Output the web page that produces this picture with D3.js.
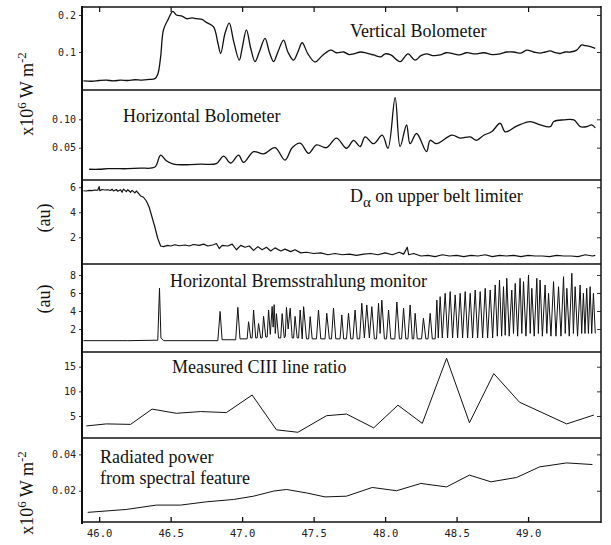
<!DOCTYPE html>
<html><head><meta charset="utf-8">
<script src="https://cdn.jsdelivr.net/npm/d3@7/dist/d3.min.js"></script>
<style>
body{margin:0;background:#fff;}
svg{display:block;}
.ttl{font-family:"Liberation Serif","Times New Roman",serif;fill:#111;}
.tick{font-family:"DejaVu Sans Mono",monospace;fill:#222;}
</style></head>
<body><svg id="c" width="611" height="545"></svg>
<script>
// ---------- data ----------
const xTicks = [46.0, 46.5, 47.0, 47.5, 48.0, 48.5, 49.0];
const xTickLabels = ["46.0","46.5","47.0","47.5","48.0","48.5","49.0"];

const panelTitles = ["Vertical Bolometer","Horizontal Bolometer","D\u03b1 on upper belt limiter","Horizontal Bremsstrahlung monitor","Measured CIII line ratio","Radiated power|from spectral feature"];

const vbTicks = [0.1, 0.2], vbTickLabels = ["0.1","0.2"];
const vertBolo = [[45.89,0.022],[45.95,0.021],[46.0,0.023],[46.05,0.024],[46.1,0.022],[46.15,0.024],[46.2,0.023],[46.25,0.025],[46.3,0.024],[46.35,0.026],[46.39,0.028],[46.41,0.04],[46.43,0.087],[46.45,0.16],[46.485,0.19],[46.515,0.21],[46.54,0.2],[46.58,0.197],[46.61,0.19],[46.65,0.192],[46.68,0.19],[46.72,0.188],[46.75,0.18],[46.8,0.168],[46.83,0.125],[46.85,0.096],[46.88,0.15],[46.91,0.178],[46.94,0.13],[46.98,0.078],[47.0,0.11],[47.03,0.16],[47.06,0.11],[47.09,0.074],[47.12,0.1],[47.16,0.137],[47.19,0.1],[47.22,0.074],[47.25,0.1],[47.29,0.132],[47.32,0.1],[47.36,0.078],[47.39,0.1],[47.42,0.125],[47.46,0.095],[47.51,0.073],[47.56,0.09],[47.62,0.105],[47.66,0.098],[47.71,0.1],[47.75,0.093],[47.78,0.095],[47.83,0.1],[47.87,0.097],[47.92,0.092],[47.97,0.087],[48.0,0.095],[48.04,0.092],[48.105,0.074],[48.16,0.095],[48.21,0.078],[48.25,0.09],[48.29,0.095],[48.34,0.09],[48.385,0.092],[48.43,0.098],[48.48,0.095],[48.52,0.092],[48.57,0.098],[48.63,0.095],[48.69,0.098],[48.75,0.093],[48.805,0.095],[48.85,0.1],[48.9,0.1],[48.95,0.097],[48.99,0.105],[49.04,0.1],[49.085,0.097],[49.12,0.1],[49.155,0.103],[49.19,0.098],[49.225,0.096],[49.26,0.1],[49.295,0.1],[49.34,0.105],[49.375,0.119],[49.4,0.117],[49.43,0.115],[49.47,0.11]];

const hbTicks = [0.05, 0.10], hbTickLabels = ["0.05","0.10"];
const horizBolo = [[45.93,0.012],[46.0,0.012],[46.06,0.013],[46.12,0.013],[46.2,0.013],[46.29,0.014],[46.39,0.016],[46.43,0.037],[46.47,0.027],[46.52,0.021],[46.61,0.02],[46.71,0.021],[46.82,0.022],[46.87,0.035],[46.92,0.023],[46.975,0.037],[47.01,0.024],[47.08,0.043],[47.15,0.039],[47.23,0.05],[47.3,0.028],[47.35,0.05],[47.406,0.058],[47.465,0.04],[47.52,0.055],[47.59,0.05],[47.66,0.067],[47.73,0.049],[47.78,0.063],[47.825,0.052],[47.86,0.069],[47.92,0.057],[47.98,0.072],[48.02,0.049],[48.07,0.138],[48.105,0.052],[48.15,0.09],[48.175,0.057],[48.22,0.075],[48.29,0.043],[48.315,0.063],[48.36,0.057],[48.467,0.072],[48.525,0.067],[48.595,0.069],[48.64,0.063],[48.69,0.072],[48.745,0.078],[48.805,0.093],[48.84,0.078],[48.92,0.088],[49.015,0.096],[49.085,0.09],[49.155,0.087],[49.18,0.096],[49.25,0.099],[49.32,0.099],[49.365,0.087],[49.41,0.087],[49.445,0.09],[49.47,0.085]];

const daTicks = [2, 4, 6], daTickLabels = ["2","4","6"];
const dAlpha = [[45.89,5.72],[45.91,5.7],[45.93,5.75],[45.95,5.73],[45.97,5.78],[45.99,5.76],[46.0,6.05],[46.005,5.72],[46.02,5.82],[46.04,5.78],[46.06,5.8],[46.08,5.74],[46.09,5.85],[46.1,5.7],[46.12,5.82],[46.13,5.68],[46.15,5.8],[46.16,5.6],[46.17,5.85],[46.19,5.65],[46.2,5.8],[46.22,5.6],[46.23,5.75],[46.25,5.55],[46.26,5.7],[46.28,5.45],[46.29,5.3],[46.31,5.2],[46.33,4.9],[46.35,4.4],[46.37,3.6],[46.39,2.8],[46.41,1.9],[46.43,1.3],[46.45,1.25],[46.48,1.35],[46.5,1.3],[46.53,1.4],[46.56,1.32],[46.6,1.38],[46.63,1.3],[46.66,1.42],[46.7,1.35],[46.73,1.45],[46.76,1.3],[46.8,1.4],[46.82,1.5],[46.84,1.1],[46.86,1.35],[46.9,1.3],[46.93,1.45],[46.96,1.0],[46.99,1.35],[47.02,1.2],[47.05,1.3],[47.08,0.95],[47.11,1.25],[47.14,1.0],[47.17,1.2],[47.2,0.9],[47.23,1.15],[47.27,0.9],[47.3,1.05],[47.34,0.85],[47.37,1.0],[47.41,0.75],[47.45,0.8],[47.5,0.7],[47.55,0.75],[47.6,0.6],[47.65,0.7],[47.7,0.6],[47.75,0.65],[47.8,0.55],[47.85,0.65],[47.9,0.7],[47.95,0.6],[48.0,0.75],[48.05,0.6],[48.1,0.8],[48.13,0.65],[48.155,1.2],[48.165,0.6],[48.2,0.7],[48.25,0.5],[48.3,0.55],[48.35,0.45],[48.4,0.6],[48.45,0.5],[48.5,0.55],[48.55,0.45],[48.6,0.55],[48.65,0.5],[48.7,0.6],[48.75,0.45],[48.8,0.55],[48.85,0.5],[48.9,0.55],[48.95,0.45],[49.0,0.55],[49.05,0.5],[49.1,0.5],[49.15,0.45],[49.2,0.55],[49.25,0.5],[49.3,0.5],[49.35,0.45],[49.4,0.6],[49.45,0.5],[49.47,0.55]];

const brTicks = [2, 4, 6, 8], brTickLabels = ["2","4","6","8"];
const brems = [[45.89,0.7],[46.2,0.7],[46.41,0.75],[46.422,6.55],[46.432,1.0],[46.45,0.7],[46.83,0.7],[46.846,3.95],[46.86,0.8],[46.955,0.8],[46.97,4.4],[46.985,0.9],[47.035,0.9],[47.045,2.8],[47.06,1.0],[47.07,1.0],[47.08,4.1],[47.095,1.0],[47.105,1.0],[47.115,2.6],[47.13,1.0],[47.14,1.0],[47.15,3.4],[47.165,1.1],[47.175,1.1],[47.185,4.1],[47.197,1.4],[47.21,4.5],[47.217,2.2],[47.224,4.7],[47.232,1.5],[47.24,3.7],[47.255,1.0],[47.27,1.0],[47.28,3.7],[47.295,1.0],[47.302,1.2],[47.31,4.4],[47.322,2.0],[47.336,4.3],[47.35,1.0],[47.36,1.0],[47.37,3.4],[47.385,1.0],[47.395,1.0],[47.406,4.1],[47.42,0.9],[47.43,4.48],[47.45,0.9],[47.465,0.9],[47.476,3.37],[47.49,0.9],[47.52,0.9],[47.534,4.1],[47.55,0.9],[47.58,0.9],[47.592,3.74],[47.61,0.9],[47.625,0.9],[47.639,4.3],[47.655,0.9],[47.685,0.9],[47.697,3.56],[47.71,0.9],[47.73,0.9],[47.744,3.74],[47.76,0.9],[47.775,0.9],[47.79,4.1],[47.805,0.9],[47.822,0.9],[47.837,4.85],[47.855,1.0],[47.872,4.67],[47.89,1.0],[47.907,4.48],[47.925,0.9],[47.94,0.9],[47.954,4.85],[47.965,1.5],[47.977,5.2],[47.995,0.9],[48.01,0.9],[48.024,4.1],[48.04,0.9],[48.068,0.9],[48.082,5.0],[48.1,0.9],[48.115,0.9],[48.129,4.3],[48.145,0.9],[48.16,0.9],[48.175,4.67],[48.19,0.9],[48.2,0.9],[48.21,3.74],[48.225,0.9],[48.255,0.9],[48.268,3.19],[48.285,0.9],[48.3,0.9],[48.315,3.74],[48.33,0.9],[48.35,0.9],[48.362,5.2],[48.372,1.0],[48.385,5.59],[48.4,1.0],[48.42,5.96],[48.437,1.0],[48.455,6.15],[48.472,1.0],[48.49,5.78],[48.507,1.0],[48.525,5.96],[48.542,1.0],[48.56,6.15],[48.577,1.0],[48.595,5.96],[48.612,1.0],[48.63,6.33],[48.647,1.0],[48.665,6.15],[48.682,1.0],[48.70,6.52],[48.717,1.0],[48.735,6.33],[48.752,1.0],[48.77,6.89],[48.785,1.2],[48.80,7.44],[48.815,1.2],[48.828,6.7],[48.84,1.3],[48.851,7.63],[48.868,1.2],[48.886,6.33],[48.898,1.5],[48.91,7.07],[48.927,1.2],[48.944,7.63],[48.956,1.5],[48.968,7.26],[48.985,1.2],[49.003,8.0],[49.015,1.5],[49.026,6.52],[49.043,1.2],[49.061,7.63],[49.072,1.5],[49.084,7.44],[49.1,1.2],[49.119,6.89],[49.131,1.5],[49.143,5.96],[49.16,1.2],[49.178,7.26],[49.195,1.2],[49.213,6.7],[49.23,1.2],[49.248,7.81],[49.26,1.5],[49.271,6.52],[49.288,1.2],[49.306,8.19],[49.317,1.5],[49.329,6.7],[49.346,1.2],[49.364,6.89],[49.375,1.5],[49.387,5.96],[49.398,1.5],[49.41,6.52],[49.422,1.5],[49.434,6.7],[49.445,1.5],[49.457,5.96],[49.47,1.5]];

const ciTicks = [5, 10, 15], ciTickLabels = ["5","10","15"];
const ciiiT = [45.91,46.05,46.22,46.37,46.54,46.71,46.89,47.07,47.24,47.39,47.59,47.73,47.92,48.09,48.26,48.43,48.59,48.76,48.94,49.27,49.46];
const ciiiRatio = [2.98,3.4,3.3,6.4,5.55,5.9,5.7,9.25,2.2,1.7,5.06,5.4,2.6,7.2,3.5,16.7,3.64,13.6,7.8,3.4,5.2];

const rpTicks = [0.02, 0.04], rpTickLabels = ["0.02","0.04"];
const radT = [45.92,46.19,46.4,46.57,46.75,46.94,47.08,47.22,47.31,47.45,47.58,47.73,47.91,48.08,48.25,48.43,48.59,48.74,48.92,49.08,49.27,49.45];
const radPower = [0.0081,0.0097,0.0121,0.0121,0.0139,0.0152,0.017,0.0198,0.0207,0.0188,0.0166,0.017,0.0218,0.02,0.024,0.0221,0.0286,0.0249,0.0273,0.0331,0.0353,0.0344];

// ---------- layout ----------
const svg = d3.select("#c");
const L = 82, R = 601;
const x = d3.scaleLinear().domain([45.88, 49.51]).range([L, R]);

const panels = [
  {top:7,   bot:90,  dom:[-0.0027,0.2216], data:vertBolo, ticks:vbTicks, labels:vbTickLabels, sw:1.3, curve:d3.curveCatmullRom.alpha(0.5)},
  {top:90,  bot:180, dom:[-0.0069,0.1516], data:horizBolo, ticks:hbTicks, labels:hbTickLabels, sw:1.3, curve:d3.curveCatmullRom.alpha(0.5)},
  {top:180, bot:264, dom:[-0.14,6.58], data:dAlpha, ticks:daTicks, labels:daTickLabels, sw:1.2, curve:d3.curveLinear},
  {top:264, bot:352, dom:[-0.56,9.22], data:brems, ticks:brTicks, labels:brTickLabels, sw:1.0, curve:d3.curveLinear},
  {top:352, bot:438, dom:[0.54,17.98], data:ciiiT.map((t,i)=>[t,ciiiRatio[i]]), ticks:ciTicks, labels:ciTickLabels, sw:1.0, curve:d3.curveLinear},
  {top:438, bot:522, dom:[0.0028,0.049], data:radT.map((t,i)=>[t,radPower[i]]), ticks:rpTicks, labels:rpTickLabels, sw:1.0, curve:d3.curveLinear}
];

const defs = svg.append("defs");
panels.forEach((p,i)=>{
  const y = d3.scaleLinear().domain(p.dom).range([p.bot, p.top]);
  defs.append("clipPath").attr("id","cp"+i).append("rect")
    .attr("x",L).attr("y",p.top).attr("width",R-L).attr("height",p.bot-p.top);
  const g = svg.append("g");
  g.append("path").datum(p.data)
    .attr("clip-path","url(#cp"+i+")")
    .attr("fill","none").attr("stroke","#111").attr("stroke-width",p.sw)
    .attr("stroke-linejoin","round")
    .attr("d", d3.line().curve(p.curve).x(d=>x(d[0])).y(d=>y(d[1])));
  const la = d3.axisLeft(y).tickValues(p.ticks).tickFormat((d,k)=>p.labels[k]).tickSize(3).tickPadding(3);
  const ga = g.append("g").attr("transform",`translate(${L},0)`).call(la);
  ga.select(".domain").remove();
  ga.selectAll("text").attr("class","tick").attr("font-size",10).attr("font-family","DejaVu Sans Mono");
  ga.selectAll("line").attr("stroke","#333");
  const ra = d3.axisRight(y).tickValues(p.ticks).tickFormat("").tickSize(-4);
  const gr = g.append("g").attr("transform",`translate(${R},0)`).call(ra);
  gr.select(".domain").remove();
  gr.selectAll("line").attr("stroke","#333");
  g.append("line").attr("x1",L).attr("x2",R).attr("y1",p.top).attr("y2",p.top)
    .attr("stroke","#111").attr("stroke-width",1.5);
});

const xa = d3.axisBottom(x).tickValues(xTicks).tickFormat((d,k)=>xTickLabels[k]).tickSize(-5).tickPadding(8);
const gx = svg.append("g").attr("transform","translate(0,522)").call(xa);
gx.select(".domain").remove();
gx.selectAll("text").attr("class","tick").attr("font-size",10.5).attr("font-family","DejaVu Sans Mono");
gx.selectAll("line").attr("stroke","#111").attr("stroke-width",1.3);
const xt = d3.axisTop(x).tickValues(xTicks).tickFormat("").tickSize(-5);
const gt = svg.append("g").attr("transform","translate(0,7)").call(xt);
gt.select(".domain").remove();
gt.selectAll("line").attr("stroke","#111").attr("stroke-width",1.2);

svg.append("line").attr("x1",L).attr("x2",R).attr("y1",522).attr("y2",522).attr("stroke","#111").attr("stroke-width",1.6);
svg.append("line").attr("x1",L).attr("x2",L).attr("y1",6).attr("y2",524).attr("stroke","#111").attr("stroke-width",2);
svg.append("line").attr("x1",R).attr("x2",R).attr("y1",6).attr("y2",523).attr("stroke","#111").attr("stroke-width",1.5);

const tfs = 18;
svg.append("text").attr("class","ttl").attr("x",350).attr("y",37).attr("font-size",tfs).text(panelTitles[0]);
svg.append("text").attr("class","ttl").attr("x",123).attr("y",122).attr("font-size",tfs).text(panelTitles[1]);
const da = svg.append("text").attr("class","ttl").attr("x",350).attr("y",202).attr("font-size",tfs);
da.append("tspan").text(panelTitles[2].slice(0,1));
da.append("tspan").attr("dy",5).attr("font-size",15).text(panelTitles[2].slice(1,2));
da.append("tspan").attr("dy",-5).text(panelTitles[2].slice(2));
svg.append("text").attr("class","ttl").attr("x",170).attr("y",287).attr("font-size",tfs).text(panelTitles[3]);
svg.append("text").attr("class","ttl").attr("x",172).attr("y",373).attr("font-size",tfs).text(panelTitles[4]);
const rp = panelTitles[5].split("|");
svg.append("text").attr("class","ttl").attr("x",100).attr("y",463).attr("font-size",tfs).text(rp[0]);
svg.append("text").attr("class","ttl").attr("x",100).attr("y",484).attr("font-size",tfs).text(rp[1]);

function unitTitle(cx, cy){
  const t = svg.append("text").attr("class","ttl").attr("font-size",18)
    .attr("text-anchor","middle").attr("transform",`translate(${cx},${cy}) rotate(-90)`);
  t.append("tspan").text("x10");
  t.append("tspan").attr("dy",-7).attr("font-size",13).text("6");
  t.append("tspan").attr("dy",7).text(" W m");
  t.append("tspan").attr("dy",-7).attr("font-size",13).text("-2");
}
unitTitle(33, 94);
unitTitle(33, 493);
function au(cx, cy){
  svg.append("text").attr("class","ttl").attr("font-size",18)
    .attr("text-anchor","middle").attr("transform",`translate(${cx},${cy}) rotate(-90)`).text("(au)");
}
au(50, 218);
au(50, 299);
</script></body></html>
